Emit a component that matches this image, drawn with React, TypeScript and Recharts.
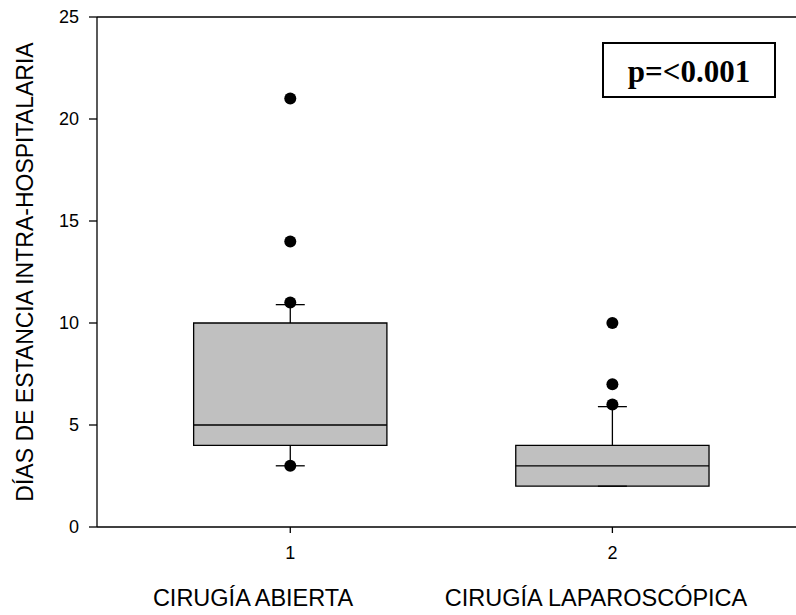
import React from 'react';
import {
  ComposedChart,
  XAxis,
  YAxis,
  Scatter,
  ReferenceArea,
  ReferenceLine,
} from 'recharts';

// box plot summary per group (x position = group number)
const groups = [1, 2];
const groupNames = ['CIRUGÍA ABIERTA', 'CIRUGÍA LAPAROSCÓPICA'];
const q1 = [4, 2];
const medians = [5, 3];
const q3 = [10, 4];
const whiskerLow = [3, 2];
const whiskerHigh = [10.9, 5.9];
const outliersAbierta = [21, 14, 11, 3];
const outliersLaparoscopica = [10, 7, 6];

const yTicks = [0, 5, 10, 15, 20, 25];
const xTicks = [1, 2];
const pValueText = 'p=<0.001';
const yLabel = 'DÍAS DE ESTANCIA INTRA-HOSPITALARIA';

const outlierPoints = [
  ...outliersAbierta.map((y) => ({ x: groups[0], y })),
  ...outliersLaparoscopica.map((y) => ({ x: groups[1], y })),
];

const BOX_HALF = 0.3;
const CAP_HALF = 0.045;
const SANS = '"Liberation Sans", Arial, sans-serif';
const INK = '#000';

const Dot = (props: any) => {
  const { cx, cy } = props;
  if (cx == null || cy == null) return null;
  return <circle cx={cx} cy={cy} r={6} fill={INK} />;
};

const App: React.FC = () => {
  return (
    <div style={{ position: 'absolute', left: 0, top: 0, width: 796, height: 615, background: '#fff' }}>
      <ComposedChart
        width={796}
        height={615}
        margin={{ top: 17, right: 0, left: 0, bottom: 0 }}
      >
        <XAxis
          type="number"
          dataKey="x"
          domain={[0.4, 2.57]}
          allowDataOverflow
          ticks={xTicks}
          height={88}
          tickSize={6}
          tickMargin={13}
          stroke={INK}
          strokeWidth={1.3}
          tick={{ fill: INK, fontSize: 18, fontFamily: SANS }}
        />
        <YAxis
          type="number"
          dataKey="y"
          domain={[0, 25]}
          ticks={yTicks}
          width={97}
          tickSize={8}
          tickMargin={10}
          stroke={INK}
          strokeWidth={1.3}
          tick={{ fill: INK, fontSize: 18, fontFamily: SANS }}
        />
        <ReferenceLine y={25} stroke={INK} strokeWidth={1.3} />

        {groups.map((g, i) => (
          <ReferenceArea
            key={`box-${g}`}
            x1={g - BOX_HALF}
            x2={g + BOX_HALF}
            y1={q1[i]}
            y2={q3[i]}
            fill="#c0c0c0"
            fillOpacity={1}
            stroke={INK}
            strokeWidth={1.3}
          />
        ))}
        {groups.map((g, i) => (
          <ReferenceLine
            key={`med-${g}`}
            segment={[
              { x: g - BOX_HALF, y: medians[i] },
              { x: g + BOX_HALF, y: medians[i] },
            ]}
            stroke={INK}
            strokeWidth={1.3}
          />
        ))}
        {groups.map((g, i) => (
          <ReferenceLine
            key={`wh-hi-${g}`}
            segment={[
              { x: g, y: q3[i] },
              { x: g, y: whiskerHigh[i] },
            ]}
            stroke={INK}
            strokeWidth={1.3}
          />
        ))}
        {groups.map((g, i) => (
          <ReferenceLine
            key={`wh-lo-${g}`}
            segment={[
              { x: g, y: q1[i] },
              { x: g, y: whiskerLow[i] },
            ]}
            stroke={INK}
            strokeWidth={1.3}
          />
        ))}
        {groups.map((g, i) => (
          <ReferenceLine
            key={`cap-hi-${g}`}
            segment={[
              { x: g - CAP_HALF, y: whiskerHigh[i] },
              { x: g + CAP_HALF, y: whiskerHigh[i] },
            ]}
            stroke={INK}
            strokeWidth={1.3}
          />
        ))}
        {groups.map((g, i) => (
          <ReferenceLine
            key={`cap-lo-${g}`}
            segment={[
              { x: g - CAP_HALF, y: whiskerLow[i] },
              { x: g + CAP_HALF, y: whiskerLow[i] },
            ]}
            stroke={INK}
            strokeWidth={1.3}
          />
        ))}

        <Scatter data={outlierPoints} shape={<Dot />} isAnimationActive={false} />
      </ComposedChart>

      {/* y axis title */}
      <div
        style={{
          position: 'absolute',
          left: 25,
          top: 272,
          transform: 'translate(-50%, -50%) rotate(-90deg)',
          whiteSpace: 'nowrap',
          fontFamily: SANS,
          fontSize: 23,
          lineHeight: 1,
          color: INK,
        }}
      >
        {yLabel}
      </div>

      {/* group names under the axis */}
      {[253, 596].map((cx, i) => (
        <div
          key={groupNames[i]}
          style={{
            position: 'absolute',
            left: cx,
            top: 587,
            transform: 'translateX(-50%)',
            whiteSpace: 'nowrap',
            fontFamily: SANS,
            fontSize: 23.5,
            lineHeight: 1,
            color: INK,
          }}
        >
          {groupNames[i]}
        </div>
      ))}

      {/* p value box */}
      <div
        style={{
          position: 'absolute',
          left: 602,
          top: 42,
          width: 174,
          height: 56,
          boxSizing: 'border-box',
          border: '2px solid #000',
          background: '#fff',
          display: 'flex',
          alignItems: 'center',
          justifyContent: 'center',
          paddingTop: 3,
          fontFamily: '"Liberation Serif", "Times New Roman", serif',
          fontWeight: 'bold',
          fontSize: 31,
          lineHeight: 1,
          color: INK,
        }}
      >
        {pValueText}
      </div>
    </div>
  );
};

export default App;
